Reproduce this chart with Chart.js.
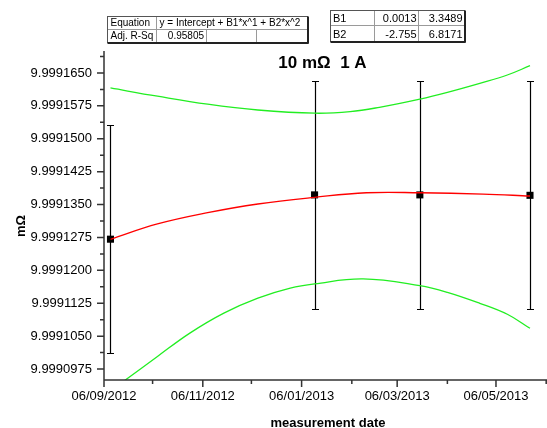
<!DOCTYPE html>
<html>
<head>
<meta charset="utf-8">
<script src="https://cdn.jsdelivr.net/npm/chart.js@4/dist/chart.umd.min.js"></script>
<style>
  body { margin: 0; background: #fff; }
  canvas { display: block; }
</style>
</head>
<body>
<canvas id="myChart" width="547" height="428"></canvas>
<script>
// measurements (dd/mm/yyyy)
const measureDates = ['10/09/2012', '14/01/2013', '20/03/2013', '27/05/2013'];
const measured = [9.9991271, 9.9991372, 9.9991372, 9.9991371];
const errors = [0.0000260, 0.0000260, 0.0000260, 0.0000260];

// fitted curve and confidence band (x in days after 06/09/2012)
const fitDays = [4, 33, 64, 95, 130, 162, 195, 234, 263];
const fitValues = [9.99912708, 9.99913057, 9.99913314, 9.99913512, 9.99913664, 9.99913769, 9.99913769, 9.99913739, 9.99913694];
const upperDays = [4, 33, 64, 95, 130, 152, 170, 195, 212, 232, 249, 263];
const upperValues = [9.99916158, 9.99915969, 9.99915787, 9.99915655, 9.99915582, 9.99915617, 9.99915717, 9.99915905, 9.99916059, 9.99916264, 9.99916453, 9.99916665];
const lowerDays = [12, 33, 53, 74, 95, 115, 130, 160, 195, 212, 232, 249, 263];
const lowerValues = [9.99909468, 9.99910037, 9.99910569, 9.99911025, 9.99911366, 9.99911593, 9.99911691, 9.99911803, 9.99911650, 9.99911499, 9.99911249, 9.99910998, 9.99910679];

// axes
const xTickLabels = ['06/09/2012', '06/11/2012', '06/01/2013', '06/03/2013', '06/05/2013'];
const xMinorLabels = ['06/10/2012', '06/12/2012', '06/02/2013', '06/04/2013', '06/06/2013'];
const yTickLabels = ['9.9990975', '9.9991050', '9.9991125', '9.9991200', '9.9991275', '9.9991350', '9.9991425', '9.9991500', '9.9991575', '9.9991650'];

const eqRows = [['Equation', 'y = Intercept + B1*x^1 + B2*x^2'], ['Adj. R-Sq', '0.95805']];
const coefRows = [['B1', '0.0013', '3.3489'], ['B2', '-2.755', '6.8171']];

const START = Date.UTC(2012, 8, 6);
function toDay(s) {
    const p = s.split('/');
    return (Date.UTC(+p[2], +p[1] - 1, +p[0]) - START) / 86400000;
}
const xTickDays = xTickLabels.map(toDay);
const xMinorDays = xMinorLabels.map(toDay);
const yTicks = yTickLabels.map(Number);

function pts(xs, ys) {
    return xs.map((v, i) => ({x: v, y: ys[i]}));
}

const FONT = 'Liberation Sans, Arial, sans-serif';
Chart.defaults.font.family = FONT;
Chart.defaults.color = '#000';

const extras = {
    id: 'extras',
    beforeDatasetsDraw(chart) {
        const {ctx, scales: {x, y}} = chart;
        ctx.save();
        ctx.strokeStyle = '#000';
        ctx.lineWidth = 1.2;
        measureDates.forEach((d, i) => {
            const px = Math.round(x.getPixelForValue(toDay(d))) + 0.5;
            const top = Math.round(y.getPixelForValue(measured[i] + errors[i])) + 0.5;
            const bot = Math.round(y.getPixelForValue(measured[i] - errors[i])) + 0.5;
            ctx.beginPath();
            ctx.moveTo(px, top); ctx.lineTo(px, bot);
            ctx.moveTo(px - 3.5, top); ctx.lineTo(px + 3.5, top);
            ctx.moveTo(px - 3.5, bot); ctx.lineTo(px + 3.5, bot);
            ctx.stroke();
        });
        ctx.restore();
    },
    afterDraw(chart) {
        const {ctx, chartArea: a, scales: {x, y}} = chart;
        ctx.save();
        // axis lines and tick marks
        ctx.strokeStyle = '#333';
        ctx.lineWidth = 1.5;
        ctx.beginPath();
        ctx.moveTo(a.left, a.top); ctx.lineTo(a.left, a.bottom);
        ctx.moveTo(a.left, a.bottom); ctx.lineTo(a.right, a.bottom);
        yTicks.forEach(v => {
            const py = y.getPixelForValue(v);
            ctx.moveTo(a.left - 7, py); ctx.lineTo(a.left, py);
        });
        for (let i = 0; i < yTicks.length; i++) {
            const v = i < yTicks.length - 1 ? (yTicks[i] + yTicks[i + 1]) / 2 : yTicks[i] + (yTicks[1] - yTicks[0]) / 2;
            const py = y.getPixelForValue(v);
            if (py < a.top) continue;
            ctx.moveTo(a.left - 4, py); ctx.lineTo(a.left, py);
        }
        xTickDays.forEach(d => {
            const px = x.getPixelForValue(d);
            ctx.moveTo(px, a.bottom); ctx.lineTo(px, a.bottom + 7);
        });
        xMinorDays.forEach(d => {
            const px = x.getPixelForValue(d);
            if (px > a.right + 1) return;
            ctx.moveTo(px, a.bottom); ctx.lineTo(px, a.bottom + 4);
        });
        ctx.stroke();

        // title and axis titles
        ctx.fillStyle = '#000';
        ctx.textAlign = 'center';
        ctx.textBaseline = 'alphabetic';
        ctx.font = 'bold 17px ' + FONT;
        ctx.fillText('10 m\u03A9  1 A', 322.5, 68);
        ctx.font = 'bold 13px ' + FONT;
        ctx.fillText('measurement date', 328, 427);
        ctx.save();
        ctx.translate(25, 226);
        ctx.rotate(-Math.PI / 2);
        ctx.fillText('m\u03A9', 0, 0);
        ctx.restore();

        // equation table
        drawTable(ctx, [107.5, 156.5, 206.5, 256.5, 307.5], [16.5, 29.5, 42.5], [[0, 1, 4], [0, 1, 2, 3, 4]]);
        ctx.font = '10px ' + FONT;
        ctx.textAlign = 'left';
        ctx.fillText(eqRows[0][0], 110.5, 26);
        ctx.fillText(eqRows[0][1], 159.5, 26);
        ctx.fillText(eqRows[1][0], 110.5, 39);
        ctx.textAlign = 'right';
        ctx.fillText(eqRows[1][1], 204, 39);

        // coefficient table
        drawTable(ctx, [330.5, 374.5, 418.5, 464.5], [10.5, 25.5, 41.5], [[0, 1, 2, 3], [0, 1, 2, 3]]);
        ctx.font = '11px ' + FONT;
        coefRows.forEach((r, i) => {
            const base = i === 0 ? 22 : 37.5;
            ctx.textAlign = 'left';
            ctx.fillText(r[0], 333, base);
            ctx.textAlign = 'right';
            ctx.fillText(r[1], 416.5, base);
            ctx.fillText(r[2], 462.5, base);
        });
        ctx.restore();
    }
};

function drawTable(ctx, cols, rows, splits) {
    ctx.strokeStyle = '#9a9a9a';
    ctx.lineWidth = 1;
    ctx.beginPath();
    for (let r = 0; r < rows.length - 1; r++) {
        splits[r].forEach(c => {
            ctx.moveTo(cols[c], rows[r]); ctx.lineTo(cols[c], rows[r + 1]);
        });
    }
    rows.forEach(ry => {
        ctx.moveTo(cols[0], ry); ctx.lineTo(cols[cols.length - 1], ry);
    });
    ctx.stroke();
    const l = cols[0], r = cols[cols.length - 1], t = rows[0], b = rows[rows.length - 1];
    ctx.strokeStyle = '#555';
    ctx.strokeRect(l, t, r - l, b - t);
    ctx.strokeStyle = '#222';
    ctx.lineWidth = 2;
    ctx.beginPath();
    ctx.moveTo(r + 0.5, t); ctx.lineTo(r + 0.5, b + 1);
    ctx.moveTo(l, b + 0.5); ctx.lineTo(r + 1, b + 0.5);
    ctx.stroke();
}

const ctx = document.getElementById('myChart').getContext('2d');
const curve = (data, color) => ({
    type: 'line',
    data: data,
    borderColor: color,
    backgroundColor: color,
    borderWidth: 1.3,
    pointRadius: 0,
    fill: false,
    tension: 0.4
});

const myChart = new Chart(ctx, {
    type: 'scatter',
    data: {
        datasets: [
            curve(pts(upperDays, upperValues), '#22ee22'),
            curve(pts(lowerDays, lowerValues), '#22ee22'),
            curve(pts(fitDays, fitValues), '#ff0000'),
            {
                type: 'scatter',
                data: pts(measureDates.map(toDay), measured),
                pointStyle: 'rect',
                pointRadius: 5,
                backgroundColor: '#000',
                borderColor: '#000',
                borderWidth: 0
            }
        ]
    },
    options: {
        responsive: false,
        animation: false,
        events: [],
        layout: {autoPadding: false, padding: {top: 51, left: 0, right: 0, bottom: 0}},
        plugins: {legend: {display: false}, tooltip: {enabled: false}},
        scales: {
            x: {
                type: 'linear',
                min: 0,
                max: 273.5,
                grid: {display: false, drawTicks: false},
                border: {display: false},
                afterBuildTicks: s => { s.ticks = xTickDays.map(v => ({value: v})); },
                afterFit: s => { s.height = 48; s.paddingLeft = 0; s.paddingRight = 0; },
                ticks: {
                    padding: 9,
                    color: '#000',
                    autoSkip: false,
                    maxRotation: 0,
                    font: {size: 13},
                    callback: (v, i) => xTickLabels[i]
                }
            },
            y: {
                type: 'linear',
                min: 9.999095,
                max: 9.99917,
                grid: {display: false, drawTicks: false},
                border: {display: false},
                afterBuildTicks: s => { s.ticks = yTicks.map(v => ({value: v})); },
                afterFit: s => { s.width = 104; s.paddingTop = 0; s.paddingBottom = 0; },
                ticks: {
                    padding: 12,
                    color: '#000',
                    autoSkip: false,
                    font: {size: 13},
                    callback: (v, i) => yTickLabels[i]
                }
            }
        }
    },
    plugins: [extras]
});
</script>
</body>
</html>
